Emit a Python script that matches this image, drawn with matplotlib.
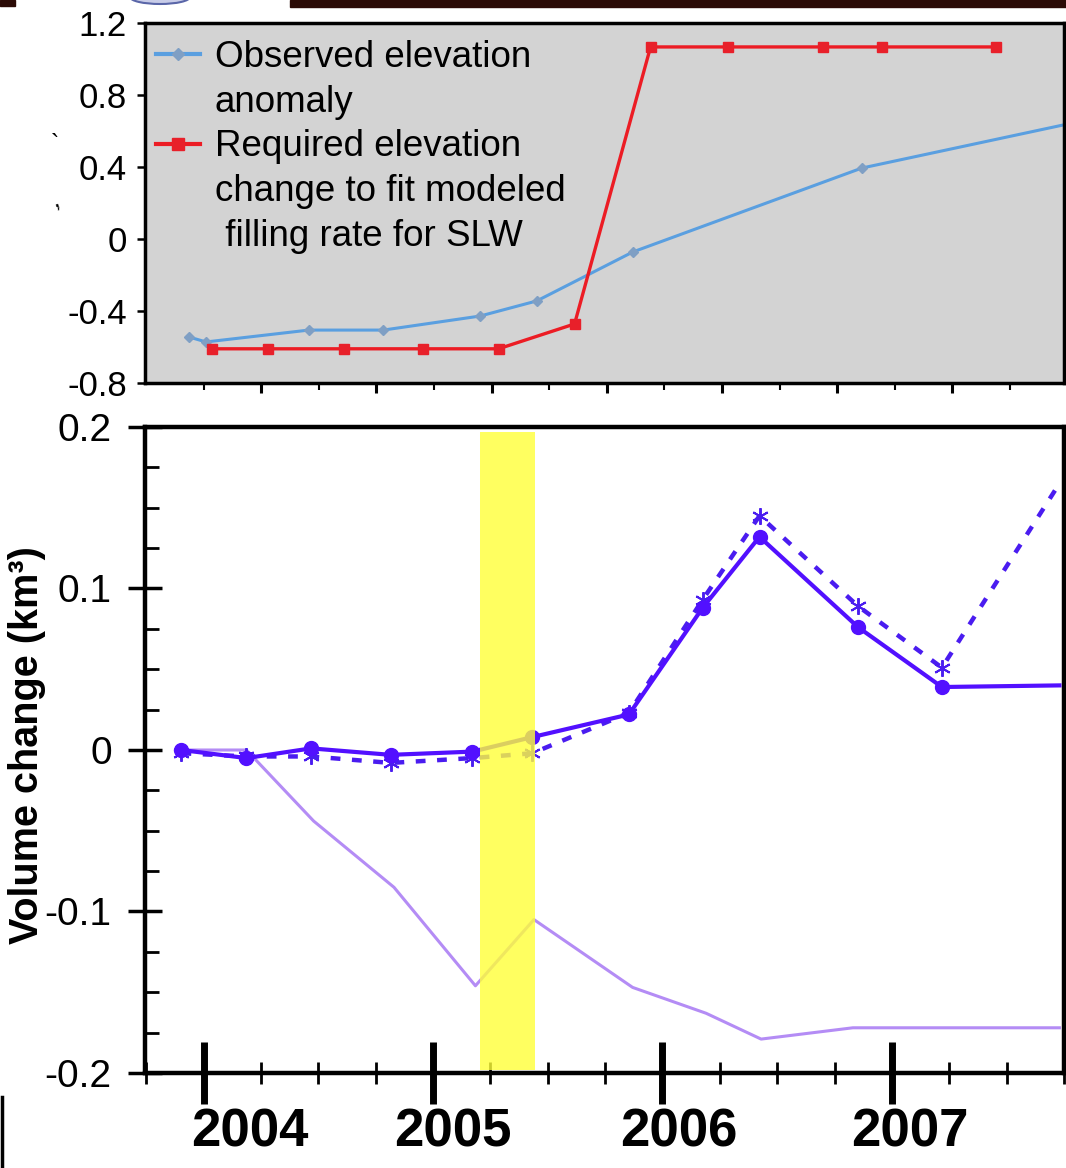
import matplotlib
matplotlib.use('Agg')
import matplotlib.pyplot as plt
from matplotlib.lines import Line2D
from matplotlib.patches import Rectangle, Ellipse
from matplotlib.transforms import ScaledTranslation
import numpy as np

plt.rcParams['font.family'] = ['Liberation Sans', 'DejaVu Sans']

# top panel: elevation anomaly (m)
obs_years = [2003.935, 2004.01, 2004.456, 2004.78, 2005.20, 2005.446, 2005.863, 2006.857, 2007.73]
obs_anomaly = [-0.544, -0.572, -0.506, -0.506, -0.428, -0.344, -0.072, 0.394, 0.633]

req_years = [2004.035, 2004.28, 2004.61, 2004.95, 2005.28, 2005.61, 2005.94, 2006.275, 2006.69, 2006.944, 2007.44]
req_change = [-0.61, -0.61, -0.61, -0.61, -0.61, -0.472, 1.067, 1.067, 1.067, 1.067, 1.067]

top_yticks = [1.2, 0.8, 0.4, 0, -0.4, -0.8]
top_ylabels = ['1.2', '0.8', '0.4', '0', '-0.4', '-0.8']

# bottom panel: volume change (km3)
vol_years = [2003.904, 2004.187, 2004.469, 2004.816, 2005.172, 2005.433, 2005.854,
             2006.175, 2006.423, 2006.853, 2007.218, 2007.73]
vol_solid = [0.0, -0.005, 0.001, -0.003, -0.001, 0.008, 0.022, 0.088, 0.132, 0.076, 0.039, 0.040]
vol_dashed = [-0.002, -0.004, -0.004, -0.008, -0.005, -0.002, 0.023, 0.093, 0.145, 0.089, 0.051, 0.165]

light_years = [2003.904, 2004.187, 2004.48, 2004.83, 2005.185, 2005.44, 2005.87,
               2006.19, 2006.43, 2006.83, 2007.73]
vol_light = [0.0, 0.0, -0.044, -0.085, -0.146, -0.105, -0.147, -0.163, -0.179, -0.172, -0.172]

highlight = [2005.203, 2005.443]

bot_yticks = [0.2, 0.1, 0, -0.1, -0.2]
bot_ylabels = ['0.2', '0.1', '0', '-0.1', '-0.2']
years = [2004, 2005, 2006, 2007]
year_label_shift = [46, 20, 16, 18]   # px, labels sit right of the ticks

xlim = (2003.745, 2007.735)

fig = plt.figure(figsize=(10.66, 11.68), dpi=100)
fig.patch.set_facecolor('white')

# ---------------- top panel ----------------
ax1 = fig.add_axes([145 / 1066, 1 - 383 / 1168, 919 / 1066, 360 / 1168])
ax1.set_facecolor('#d3d3d3')
ax1.plot(obs_years, obs_anomaly, color='#5a9fe0', lw=2.2, marker='D', ms=5,
         mfc='#7f9fc4', mec='#7f9fc4', markevery=list(range(len(obs_years) - 1)))
ax1.plot(req_years, req_change, color='#ec1c24', lw=2.4, marker='s', ms=6.5,
         mfc='#e8202a', mec='#e8202a')
ax1.set_xlim(*xlim)
ax1.set_ylim(-0.8, 1.2)
ax1.set_yticks(top_yticks)
ax1.set_yticklabels(top_ylabels, fontsize=25)
ax1.set_xticks(np.arange(2004.25, 2007.6, 0.5))
ax1.set_xticks(np.arange(2004.0, 2007.6, 0.25), minor=True)
ax1.set_xticklabels([])
ax1.tick_params(axis='x', which='major', direction='out', length=7, width=2.2)
ax1.tick_params(axis='x', which='minor', direction='out', length=5, width=1.5)
ax1.tick_params(axis='y', direction='out', length=6, width=1.8, pad=7)
for s in ax1.spines.values():
    s.set_linewidth(2.5)

blank = Line2D([], [], color='none')
h_obs = Line2D([], [], color='#5a9fe0', lw=3, marker='D', ms=6, mfc='#7f9fc4', mec='#7f9fc4')
h_req = Line2D([], [], color='#ec1c24', lw=3, marker='s', ms=8, mfc='#e8202a', mec='#e8202a')
leg = ax1.legend([h_obs, blank, h_req, blank, blank],
                 ['Observed elevation', 'anomaly', 'Required elevation',
                  'change to fit modeled', ' filling rate for SLW'],
                 loc='upper left', bbox_to_anchor=(0.012, 0.952), frameon=False,
                 fontsize=26.5, handlelength=1.2, handletextpad=0.4,
                 labelspacing=0.26, borderpad=0, borderaxespad=0)

# ---------------- bottom panel ----------------
ax2 = fig.add_axes([145 / 1066, 1 - 1073 / 1168, 919 / 1066, 646 / 1168])
ax2.plot(light_years, vol_light, color='#b48cf5', lw=2.2, zorder=2)
ax2.plot(vol_years, vol_dashed, color='#4a1cf0', lw=3.2, ls=(0, (2.2, 2.6)),
         marker=(6, 2, 0), ms=12, mew=1.4, markevery=list(range(len(vol_years) - 1)), zorder=3)
ax2.plot(vol_years, vol_solid, color='#5210ff', lw=3, marker='o', ms=10,
         markevery=list(range(len(vol_years) - 1)), zorder=4)
ax2.axvspan(highlight[0], highlight[1], ymin=0.004, ymax=0.992,
            color='#ffff38', alpha=0.8, lw=0, zorder=5)

ax2.set_xlim(*xlim)
ax2.set_ylim(-0.2, 0.2)
ax2.set_yticks(bot_yticks)
ax2.set_yticklabels(bot_ylabels, fontsize=28)
ax2.set_yticks(np.arange(-0.2, 0.201, 0.025), minor=True)
ax2.tick_params(axis='y', which='major', direction='inout', length=24, width=2.5, pad=12)
ax2.tick_params(axis='y', which='minor', direction='in', length=10, width=2)

ax2.set_xticks(years)
ax2.set_xticks(np.arange(2003.75, 2007.76, 0.25), minor=True)
ax2.set_xticklabels([str(y) for y in years], fontsize=38, fontweight='bold')
ax2.tick_params(axis='x', which='major', direction='inout', length=45, width=5, pad=2)
ax2.tick_params(axis='x', which='minor', direction='inout', length=16, width=2)
for lab, dx in zip(ax2.get_xticklabels(), year_label_shift):
    lab.set_transform(lab.get_transform() + ScaledTranslation(dx / 100, 0, fig.dpi_scale_trans))
for s in ax2.spines.values():
    s.set_linewidth(3.2)

fig.text(27 / 1066, 1 - 745 / 1168, 'Volume change (km³)', rotation=90,
         ha='center', va='center', fontsize=28.5, fontweight='bold')

# ---------------- leftovers of the pasted figure edges ----------------
fig.add_artist(Rectangle((290 / 1066, 1 - 7 / 1168), 776 / 1066, 7 / 1168,
                         transform=fig.transFigure, color='#2b0b06', zorder=1))
fig.add_artist(Rectangle((0, 1 - 6 / 1168), 15 / 1066, 6 / 1168,
                         transform=fig.transFigure, color='#2b0b06', zorder=1))
fig.add_artist(Ellipse((160 / 1066, 1 + 3 / 1168), 60 / 1066, 14 / 1168,
                       transform=fig.transFigure, fc='#c8cce8', ec='#5a66a8', lw=1.5, zorder=1))
fig.add_artist(Line2D([1.5 / 1066, 1.5 / 1066], [0, 71 / 1168],
                      transform=fig.transFigure, color='black', lw=2.5))
fig.text(55 / 1066, 1 - 145 / 1168, '`', ha='center', va='center', fontsize=18)
fig.text(55 / 1066, 1 - 200 / 1168, ',', ha='center', va='center', fontsize=18, rotation=20)

fig.savefig('out.png', dpi=100)
